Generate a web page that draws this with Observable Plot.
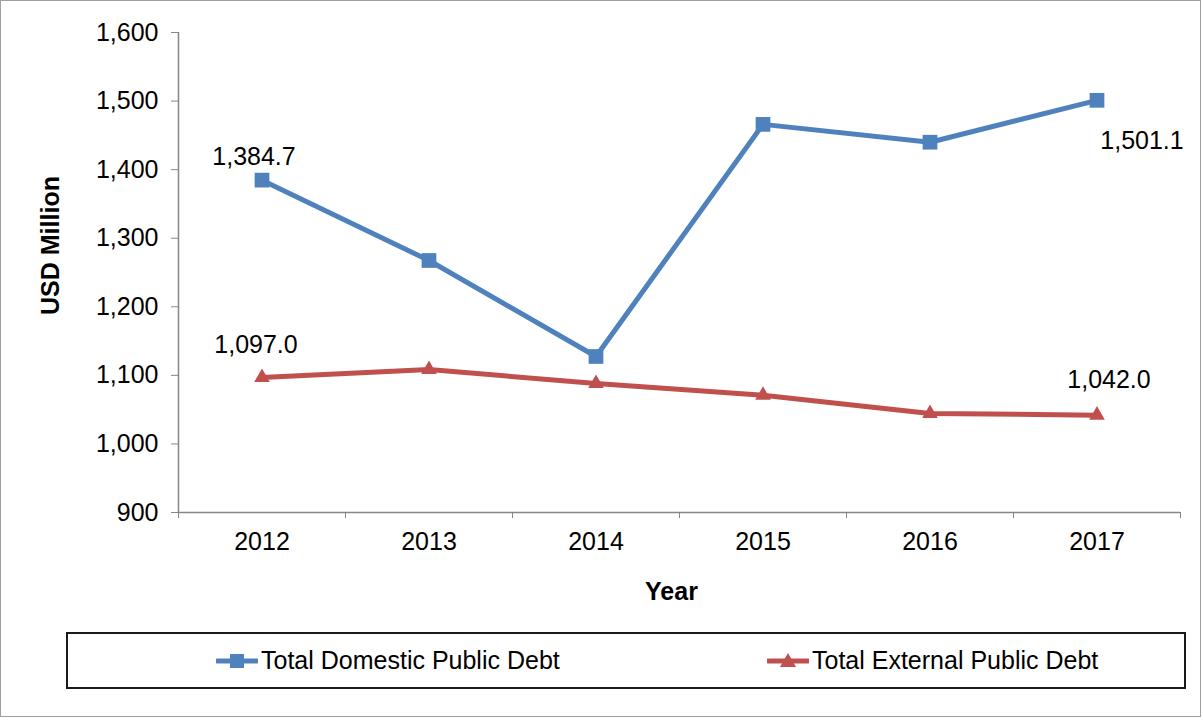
<!DOCTYPE html>
<html>
<head>
<meta charset="utf-8">
<script src="https://cdn.jsdelivr.net/npm/d3@7"></script>
<script src="https://cdn.jsdelivr.net/npm/@observablehq/plot@0.6"></script>
<style>
  html, body { margin: 0; padding: 0; background: #fff; }
  body { font-family: "Liberation Sans", Arial, sans-serif; }
  #page { position: relative; width: 1202px; height: 719px; overflow: hidden; }
  #border { position: absolute; left: 0; top: 0; width: 1201px; height: 717px; box-sizing: border-box; border: 1px solid #a0a0a0; pointer-events: none; }
  #chart { position: absolute; left: 0; top: 0; }
  #legend { position: absolute; left: 66px; top: 632px; width: 1120px; height: 57px; box-sizing: border-box; border: 2px solid #1a1a1a; background: #fff; }
  .item { position: absolute; top: 0; height: 53px; display: flex; align-items: center; font-size: 25px; color: #000; white-space: nowrap; }
  .item svg { display: block; margin-right: 3px; }
</style>
</head>
<body>
<div id="page">
  <div id="chart"></div>
  <div id="legend"></div>
  <div id="border"></div>
</div>
<script>
// ---- data ----
const years = [2012, 2013, 2014, 2015, 2016, 2017];
const domestic = [1384.7, 1267.5, 1127.5, 1466.0, 1440.0, 1501.1];
const external = [1097.0, 1108.5, 1088.0, 1071.0, 1044.5, 1042.0];
const seriesNames = ["Total Domestic Public Debt", "Total External Public Debt"];
const seriesColors = ["#4F81BD", "#C0504D"];
const yTicks = [900, 1000, 1100, 1200, 1300, 1400, 1500, 1600];
const xTitle = "Year";
const yTitle = "USD Million";

// ---- derived tables ----
const domData = years.map((year, i) => ({year, value: domestic[i]}));
const extData = years.map((year, i) => ({year, value: external[i]}));
const xBounds = years.map(y => y - 0.5).concat([years[years.length - 1] + 0.5]);
const fmt = d3.format(",.1f");
const FS = 25;
const axisGray = "#868686";

const chart = Plot.plot({
  width: 1202,
  height: 610,
  marginLeft: 178,
  marginRight: 22,
  marginTop: 32,
  marginBottom: 98,
  style: {fontFamily: "'Liberation Sans', Arial, sans-serif", fontSize: FS + "px", color: "#000", background: "transparent", overflow: "visible"},
  x: {domain: [xBounds[0], xBounds[xBounds.length - 1]]},
  y: {domain: [yTicks[0], yTicks[yTicks.length - 1]]},
  marks: [
    Plot.axisY({ticks: yTicks, tickFormat: d3.format(","), tickSize: 7, tickPadding: 13, stroke: axisGray, fill: "#000", fontSize: FS, label: null}),
    Plot.axisX({ticks: years, tickFormat: d => String(d), tickSize: 0, tickPadding: 20, fill: "#000", fontSize: FS, label: null}),
    Plot.axisX({ticks: xBounds, tickFormat: () => "", tickSize: 6, stroke: axisGray, label: null}),
    Plot.ruleX([xBounds[0]], {stroke: axisGray, strokeWidth: 1.5}),
    Plot.ruleY([yTicks[0]], {stroke: axisGray, strokeWidth: 1.5}),
    Plot.lineY(domData, {x: "year", y: "value", stroke: seriesColors[0], strokeWidth: 5}),
    Plot.lineY(extData, {x: "year", y: "value", stroke: seriesColors[1], strokeWidth: 5}),
    Plot.dot(domData, {x: "year", y: "value", symbol: "square", r: 8.3, fill: seriesColors[0], stroke: "none"}),
    Plot.dot(extData, {x: "year", y: "value", symbol: "triangle", r: 5.8, fill: seriesColors[1], stroke: "none"}),
    Plot.text([domData[0]], {x: "year", y: "value", text: d => fmt(d.value), dx: -8, dy: -23, fontSize: FS, fill: "#000"}),
    Plot.text([extData[0]], {x: "year", y: "value", text: d => fmt(d.value), dx: -6, dy: -32, fontSize: FS, fill: "#000"}),
    Plot.text([domData[domData.length - 1]], {x: "year", y: "value", text: d => fmt(d.value), dx: 45, dy: 41, fontSize: FS, fill: "#000"}),
    Plot.text([extData[extData.length - 1]], {x: "year", y: "value", text: d => fmt(d.value), dx: 12, dy: -35, fontSize: FS, fill: "#000"}),
    Plot.text([yTitle], {frameAnchor: "left", textAnchor: "middle", lineAnchor: "middle", dx: -128, dy: -27, rotate: -90, fontWeight: "bold", fontSize: FS, fill: "#000"}),
    Plot.text([xTitle], {frameAnchor: "bottom", textAnchor: "middle", lineAnchor: "middle", dx: -8, dy: 79, fontWeight: "bold", fontSize: FS, fill: "#000"})
  ]
});
document.getElementById("chart").appendChild(chart);

// ---- legend ----
const legend = document.getElementById("legend");
const itemLefts = [148, 699];
seriesNames.forEach((name, i) => {
  const div = document.createElement("div");
  div.className = "item";
  div.style.left = itemLefts[i] + "px";
  const sym = i === 0
    ? `<rect x="14" y="3" width="14" height="14" fill="${seriesColors[i]}"/>`
    : `<path d="M21,2 L29,16 L13,16 Z" fill="${seriesColors[i]}"/>`;
  div.innerHTML = `<svg width="42" height="20" viewBox="0 0 42 20"><line x1="1" y1="10" x2="41" y2="10" stroke="${seriesColors[i]}" stroke-width="5" stroke-linecap="round"/>${sym}</svg><span>${name}</span>`;
  legend.appendChild(div);
});
</script>
</body>
</html>
